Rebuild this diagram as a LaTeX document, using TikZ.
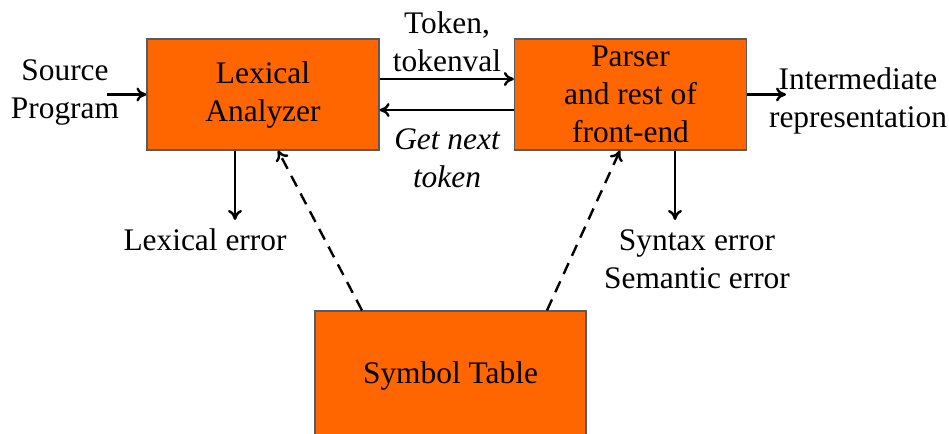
\documentclass[tikz,border=0pt]{standalone}
\usepackage{fontspec}
\setmainfont{Liberation Serif}
\newfontfamily\diagramfont{Liberation Serif}
\usepackage{tikz}
\usetikzlibrary{positioning}
\usetikzlibrary{arrows.meta}
\definecolor{phaseorange}{HTML}{FF6600}
\definecolor{phaseborder}{HTML}{5A5A5A}

\begin{document}
\begin{tikzpicture}[x=0.5pt,y=0.5pt,
                    font=\diagramfont\fontsize{15.7}{19}\selectfont,
                    >={To[length=5pt,width=7pt]},
                    phase/.style={rectangle, draw=phaseborder, line width=0.6pt,
                                  fill=phaseorange, align=center, inner sep=1pt,
                                  minimum width=116pt, minimum height=55.5pt},
                    note/.style={align=center, inner sep=0pt},
                    flow/.style={->, line width=1.2pt},
                    lookup/.style={->, line width=1.2pt, dash pattern=on 6pt off 4pt}]
\useasboundingbox (0,0) rectangle (949,434);
% the three boxes of the front end
\node [phase] (lexer)  at (263,339.5) {Lexical\\Analyzer};
\node [phase] (parser) at (630.5,339.5) {Parser\\and rest of\\front-end};
\node [phase, minimum width=135.5pt, minimum height=65pt] (symtab) at (450.5,58) {Symbol Table};
%
% labels round them
\node [note] (source)  at (65,342)   {Source\\Program};
\node [note] (token)   at (447,392)  {Token,\\tokenval};
\node [note, font=\diagramfont\fontsize{15.7}{19}\selectfont\itshape] (getnext) at (447,276) {Get next\\token};
\node [note] (lexerr)  at (205,194)  {Lexical error};
\node [note] (semerr)  at (697,175)  {Syntax error\\Semantic error};
\node [note] (inter)   at (858,333)  {Intermediate\\representation};
\coordinate (srcin)    at (107,339.5);
\coordinate (interout) at (786,339.5);
\coordinate (lexdown)  at (235,214);
\coordinate (semdown)  at (675,214);
%
% data flow
\draw [flow] (srcin) -- (lexer.west);
\draw [flow] ([yshift=7.75pt]lexer.east) -- ([yshift=7.75pt]parser.west);
\draw [flow] ([yshift=-7.75pt]parser.west) -- ([yshift=-7.75pt]lexer.east);
\draw [flow] (parser.east) -- (interout);
\draw [flow] (lexer.south -| lexdown) -- (lexdown);
\draw [flow] (parser.south -| semdown) -- (semdown);
%
% symbol table lookups
\draw [lookup] ([xshift=-44.25pt]symtab.north) -- ([xshift=7.5pt]lexer.south);
\draw [lookup] ([xshift=48.25pt]symtab.north) -- ([xshift=-5.25pt]parser.south);
\end{tikzpicture}
\end{document}
